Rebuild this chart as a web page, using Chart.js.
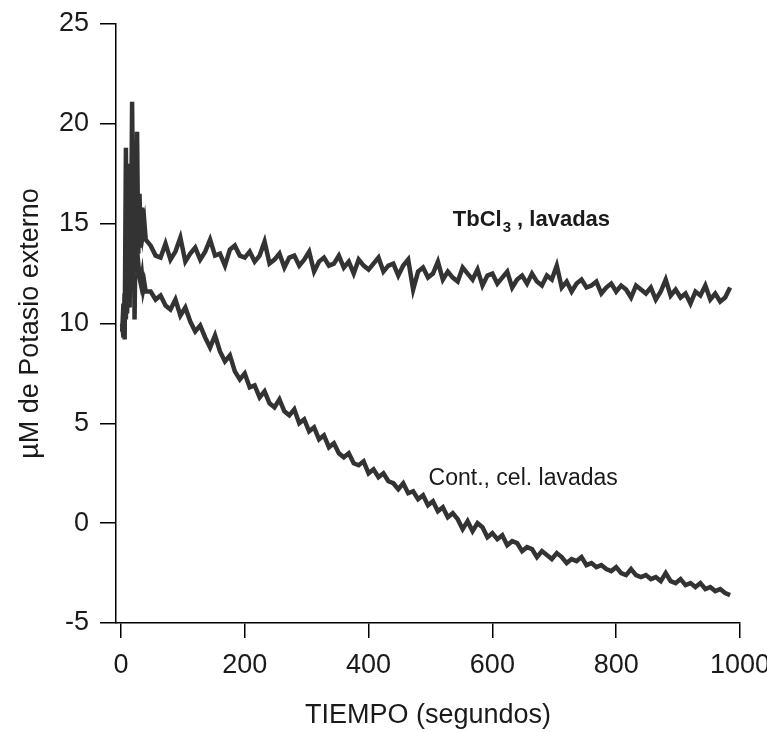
<!DOCTYPE html>
<html>
<head>
<meta charset="utf-8">
<script src="https://cdn.jsdelivr.net/npm/chart.js@4/dist/chart.umd.min.js"></script>
<style>
    html, body { margin: 0; padding: 0; background: #fff; }
    canvas { display: block; }
</style>
</head>
<body>
<canvas id="potasioChart" width="767" height="732"></canvas>
<script>
// Sampling times (s)
var timeSec = [
    2, 4, 6, 8, 10, 12, 14, 16, 18, 20, 22, 24, 26, 28, 30, 32, 34, 36, 38, 40,
    48, 56, 64, 72, 80, 88, 96, 104, 112, 120,
    128, 136, 144, 152, 160, 168, 176, 184, 192, 200,
    208, 216, 224, 232, 240, 248, 256, 264, 272, 280,
    288, 296, 304, 312, 320, 328, 336, 344, 352, 360,
    368, 376, 384, 392, 400, 408, 416, 424, 432, 440,
    448, 456, 464, 472, 480, 488, 496, 504, 512, 520,
    528, 536, 544, 552, 560, 568, 576, 584, 592, 600,
    608, 616, 624, 632, 640, 648, 656, 664, 672, 680,
    688, 696, 704, 712, 720, 728, 736, 744, 752, 760,
    768, 776, 784, 792, 800, 808, 816, 824, 832, 840,
    848, 856, 864, 872, 880, 888, 896, 904, 912, 920,
    928, 936, 944, 952, 960, 968, 976, 984
];

// TbCl3, lavadas
var tbcl3Values = [
    10.0, 9.3, 11.5, 10.2, 14.5, 11.0, 17.5, 13.0, 21.1, 14.0, 19.0, 12.5, 19.6, 13.5, 16.5, 13.8, 15.8, 14.6, 15.0, 14.2,
    13.9, 13.4, 13.3, 14.0, 13.2, 13.6, 14.3, 13.1, 13.5, 13.8,
    13.2, 13.6, 14.2, 13.4, 13.5, 12.9, 13.7, 13.9, 13.4, 13.3,
    13.6, 13.1, 13.4, 14.1, 13.0, 13.2, 13.5, 12.8, 13.3, 13.4,
    12.9, 13.2, 13.6, 12.6, 13.1, 13.3, 12.9, 13.0, 13.4, 12.8,
    13.1, 12.5, 13.2, 12.9, 12.7, 13.0, 13.3, 12.6, 12.9, 13.0,
    12.4, 12.9, 13.2, 11.7, 12.6, 12.8, 12.3, 12.5, 13.1, 12.2,
    12.6, 12.3, 12.1, 12.8, 12.5, 12.2, 12.7, 11.9, 12.4, 12.5,
    12.0, 12.3, 12.6, 11.8, 12.2, 12.4, 12.0, 12.5, 12.1, 11.9,
    12.4, 12.2, 12.9, 11.8, 12.1, 11.6, 12.0, 12.2, 11.8, 11.9,
    12.1, 11.5, 11.8, 12.0, 11.6, 11.9, 11.7, 11.3, 11.9, 11.7,
    11.5, 11.8, 11.2, 11.6, 12.2, 11.4, 11.7, 11.3, 11.5, 11.0,
    11.6, 11.4, 11.9, 11.2, 11.5, 11.1, 11.3, 11.8
];

// Cont., cel. lavadas
var controlValues = [
    9.6, 11.0, 9.2, 18.8, 10.5, 18.0, 10.8, 16.5, 12.0, 17.0, 10.2, 15.5, 12.6, 13.0, 12.3, 12.0, 12.4, 11.7, 12.0, 11.6,
    11.6, 11.2, 11.4, 10.9, 10.7, 11.2, 10.4, 10.8, 10.1, 9.6,
    9.9, 9.3, 8.8, 9.4, 8.6, 8.1, 8.4, 7.6, 7.2, 7.5,
    6.8, 6.9, 6.3, 6.6, 6.0, 5.8, 6.2, 5.6, 5.4, 5.7,
    5.0, 5.2, 4.6, 4.8, 4.2, 4.4, 3.8, 4.0, 3.5, 3.3,
    3.5, 3.0, 2.9, 3.1, 2.5, 2.7, 2.3, 2.5, 2.1, 2.0,
    1.7, 2.0, 1.5, 1.6, 1.2, 1.4, 0.9, 1.1, 0.6, 0.8,
    0.3, 0.5, 0.2, -0.3, 0.1, -0.4, 0.0, -0.2, -0.7, -0.5,
    -0.8, -0.6, -1.1, -0.9, -1.0, -1.4, -1.2, -1.3, -1.7, -1.4,
    -1.6, -1.8, -1.5, -1.7, -2.0, -1.8, -1.9, -1.7, -2.1, -2.0,
    -2.2, -2.1, -2.3, -2.4, -2.2, -2.5, -2.6, -2.3, -2.6, -2.7,
    -2.6, -2.8, -2.7, -2.9, -2.5, -2.9, -3.0, -2.8, -3.1, -3.0,
    -3.2, -3.0, -3.3, -3.2, -3.4, -3.3, -3.5, -3.6
];

var xTickValues = [0, 200, 400, 600, 800, 1000];
var yTickValues = [-5, 0, 5, 10, 15, 20, 25];

var FONT = "'Liberation Sans', Arial, sans-serif";

function toPoints(values)
{
    return timeSec.map(function (t, i) { return {x: t, y: values[i]}; });
}

function traceSets(label, values)
{
    // dark outer trace plus a lighter inner trace, like the scanned figure
    return [
        {label: label, data: toPoints(values), borderColor: "#333333", borderWidth: 4.5, pointRadius: 0, tension: 0},
        {label: label + " (inner)", data: toPoints(values), borderColor: "#a8a8a8", borderWidth: 1.3, pointRadius: 0, tension: 0}
    ];
}

var curveLabels = {
    id: "curveLabels",
    afterDatasetsDraw: function (chart)
    {
        var ctx = chart.ctx;
        var xs = chart.scales.x, ys = chart.scales.y;
        ctx.save();
        ctx.fillStyle = "#1a1a1a";
        ctx.textBaseline = "alphabetic";
        ctx.textAlign = "left";

        // TbCl3 , lavadas
        var x = xs.getPixelForValue(536);
        var y = ys.getPixelForValue(14.9);
        ctx.font = "bold 22px " + FONT;
        ctx.fillText("TbCl", x, y);
        x += ctx.measureText("TbCl").width + 1;
        ctx.font = "bold 15px " + FONT;
        ctx.fillText("3", x, y + 6);
        x += ctx.measureText("3").width;
        ctx.font = "bold 22px " + FONT;
        ctx.fillText(" , lavadas", x, y);

        // Cont., cel. lavadas
        ctx.font = "23px " + FONT;
        ctx.fillText("Cont., cel. lavadas", xs.getPixelForValue(497), ys.getPixelForValue(1.9));
        ctx.restore();
    }
};

new Chart(document.getElementById("potasioChart"), {
    type:    "line",
    data:    {
        datasets: traceSets("TbCl3, lavadas", tbcl3Values).concat(traceSets("Cont., cel. lavadas", controlValues))
    },
    options: {
        responsive: false,
        animation:  false,
        layout:     {padding: {left: 0, right: 27, top: 24, bottom: 0}},
        plugins:    {legend: {display: false}, tooltip: {enabled: false}},
        scales:     {
            x: {
                type: "linear",
                min:  -8,
                max:  1000,
                afterBuildTicks: function (axis) { axis.ticks = xTickValues.map(function (v) { return {value: v}; }); },
                afterFit: function (axis) { axis.height = 109; axis.paddingLeft = 0; axis.paddingRight = 0; },
                border: {display: true, color: "#000", width: 1.5},
                grid:   {drawOnChartArea: false, drawTicks: true, tickLength: 15, color: "#000", lineWidth: 1.5},
                ticks:  {color: "#1a1a1a", padding: 11, maxRotation: 0, font: {family: FONT, size: 27},
                         callback: function (v) { return String(v); }},
                title:  {display: true, text: "TIEMPO (segundos)", color: "#1a1a1a", padding: {top: 0, bottom: 0}, font: {family: FONT, size: 27}}
            },
            y: {
                min: -5,
                max: 25,
                afterBuildTicks: function (axis) { axis.ticks = yTickValues.map(function (v) { return {value: v}; }); },
                afterFit: function (axis) { axis.width = 116; axis.paddingTop = 0; axis.paddingBottom = 0; },
                border: {display: true, color: "#000", width: 1.5},
                grid:   {drawOnChartArea: false, drawTicks: true, tickLength: 16, color: "#000", lineWidth: 1.5},
                ticks:  {color: "#1a1a1a", padding: 11, font: {family: FONT, size: 27},
                         callback: function (v) { return String(v); }},
                title:  {display: true, text: "µM de Potasio externo", color: "#1a1a1a", padding: {top: 14, bottom: 0}, font: {family: FONT, size: 27}}
            }
        }
    },
    plugins: [curveLabels]
});
</script>
</body>
</html>
